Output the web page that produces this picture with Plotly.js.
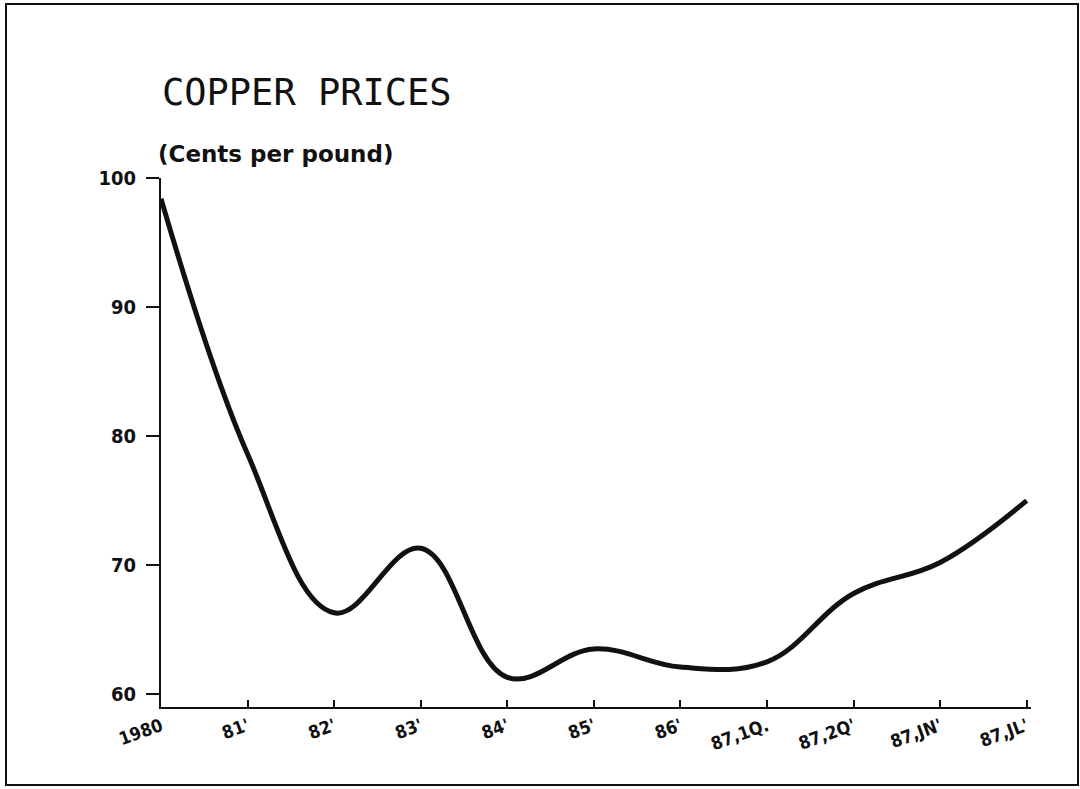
<!DOCTYPE html>
<html>
<head>
<meta charset="utf-8">
<script src="https://cdn.plot.ly/plotly-3.0.1.min.js"></script>
<style>
  html, body { margin: 0; padding: 0; background: #fff; }
  #wrap { position: relative; width: 1080px; height: 789px; overflow: hidden; }
  #chart { position: absolute; left: 0; top: 0; width: 1080px; height: 789px; }
  #frame { position: absolute; left: 5px; top: 3px; width: 1070px; height: 779px;
           border: 2px solid #111; pointer-events: none; }
</style>
</head>
<body>
<div id="wrap">
  <div id="chart"></div>
  <div id="frame"></div>
</div>
<script>
// Period labels along the x axis
const periods = ["1980", "81'", "82'", "83'", "84'", "85'", "86'", "87,1Q.", "87,2Q'", "87,JN'", "87,JL'"];
// Copper price, cents per pound
const prices = [98.4, 78.6, 66.3, 71.3, 61.3, 63.5, 62.1, 62.5, 67.8, 70.2, 75.0];
// Y axis ticks
const yTicks = [60, 70, 80, 90, 100];

const idx = periods.map((_, i) => i);

const trace = {
  x: idx,
  y: prices,
  type: 'scatter',
  mode: 'lines',
  line: { color: '#111', width: 5, shape: 'spline', smoothing: 1.1 },
  hoverinfo: 'skip'
};

const layout = {
  width: 1080,
  height: 789,
  margin: { l: 161, r: 49, t: 178, b: 82 },
  paper_bgcolor: '#fff',
  plot_bgcolor: '#fff',
  showlegend: false,
  font: { family: 'DejaVu Sans Mono, monospace', color: '#111' },
  xaxis: {
    range: [0, 10.05],
    tickmode: 'array',
    tickvals: idx,
    ticktext: periods,
    tickangle: -20,
    ticks: 'inside',
    ticklen: 7,
    tickwidth: 2,
    tickcolor: '#111',
    showline: true,
    linecolor: '#111',
    linewidth: 2,
    showgrid: false,
    zeroline: false,
    tickfont: { family: 'DejaVu Sans Condensed, DejaVu Sans', size: 18, color: '#111', weight: 'bold' },
    fixedrange: true
  },
  yaxis: {
    range: [59, 100],
    tickmode: 'array',
    tickvals: yTicks,
    ticktext: yTicks.map(String),
    ticks: 'outside',
    ticklen: 13,
    tickwidth: 2,
    tickcolor: '#111',
    ticklabelstandoff: 6,
    showline: true,
    linecolor: '#111',
    linewidth: 2,
    showgrid: false,
    zeroline: false,
    tickfont: { family: 'DejaVu Sans Condensed, DejaVu Sans', size: 20, color: '#111', weight: 'bold' },
    fixedrange: true
  },
  title: {
    text: 'COPPER PRICES',
    font: { family: 'DejaVu Sans Mono', size: 37, color: '#111' },
    x: 162 / 1080, xref: 'container', xanchor: 'left',
    y: 1 - 92 / 789, yref: 'container', yanchor: 'middle'
  },
  annotations: [{
    text: '(Cents per pound)',
    xref: 'paper', yref: 'paper',
    x: -0.006, y: 1.045,
    xanchor: 'left', yanchor: 'middle',
    showarrow: false,
    font: { family: 'DejaVu Sans', size: 23, color: '#111', weight: 'bold' }
  }]
};

Plotly.newPlot('chart', [trace], layout, { displayModeBar: false, staticPlot: true });
</script>
</body>
</html>
